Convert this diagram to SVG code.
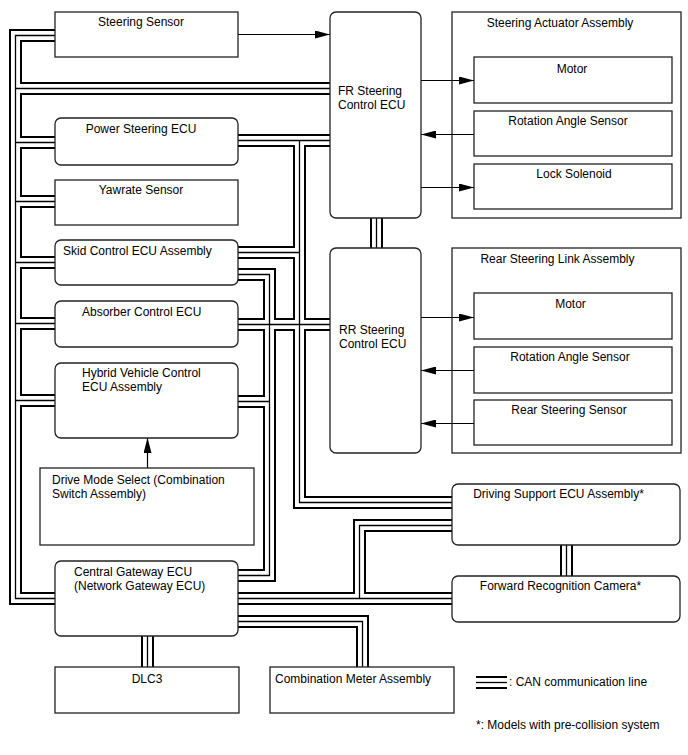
<svg xmlns="http://www.w3.org/2000/svg" xmlns:xlink="http://www.w3.org/1999/xlink" width="688" height="755" viewBox="0 0 688 755">
<style>
.bg{fill:#fff}
.box{fill:#fff;stroke:#222;stroke-width:1.3}
.cont{fill:none;stroke:#222;stroke-width:1.3}
.t{font-family:"Liberation Sans",Arial,sans-serif;font-size:12px;fill:#000}
.m{text-anchor:middle}
.can-outer{fill:none;stroke:#000;stroke-width:13}
.can-inner{fill:none;stroke:#fff;stroke-width:9}
.can-core{fill:none;stroke:#000;stroke-width:1.3}
.arr{fill:none;stroke:#000;stroke-width:1.2;marker-end:url(#ah)}
</style>
<defs>
<marker id="ah" markerWidth="15" markerHeight="8" refX="15" refY="4" orient="auto" markerUnits="userSpaceOnUse">
<path d="M0,0 L15,4 L0,8 z" fill="#000"/>
</marker>
<g id="can">
<path d="M57,35.5 H15.5 V598.5 H57"/>
<path d="M15.5,88.5 H332"/>
<path d="M15.5,142.5 H57"/>
<path d="M15.5,201.5 H57"/>
<path d="M15.5,262.5 H57"/>
<path d="M15.5,323.5 H57"/>
<path d="M15.5,400.5 H57"/>
<path d="M236,140.5 H332"/>
<path d="M299.5,140.5 V502.5 H454"/>
<path d="M236,252.5 H299.5"/>
<path d="M236,324.5 H332"/>
<path d="M236,274.5 H269.5 V575.5 H236"/>
<path d="M236,401.5 H269.5"/>
<path d="M236,598.5 H454"/>
<path d="M454,525.5 H359.5 V598.5"/>
<path d="M236,621.5 H362.5 V669"/>
<path d="M147.5,634 V669"/>
<path d="M376.5,216 V250"/>
<path d="M566.5,543 V578"/>
</g>
</defs>
<rect class="bg" x="0" y="0" width="688" height="755"/>
<g id="connectors">
<use xlink:href="#can" class="can-outer"/>
<use xlink:href="#can" class="can-inner"/>
<use xlink:href="#can" class="can-core"/>
<path class="arr" d="M238,34.5 H330"/>
<path class="arr" d="M421,80.5 H474"/>
<path class="arr" d="M474,134.5 H421"/>
<path class="arr" d="M421,187.5 H474"/>
<path class="arr" d="M421,317.5 H474"/>
<path class="arr" d="M474,370.5 H421"/>
<path class="arr" d="M474,423.5 H421"/>
<path class="arr" d="M147.5,468 V438"/>
</g>
<g id="steering-sensor"><rect class="box" x="55" y="12" width="183" height="45"/><text class="t m" x="141" y="26">Steering Sensor</text></g>
<g id="fr-steering-ecu"><rect class="box" x="330" y="12" width="91" height="206" rx="6"/><text class="t" x="338" y="95">FR Steering</text><text class="t" x="338" y="108.5">Control ECU</text></g>
<g id="steering-actuator-assembly"><rect class="cont" x="452" y="12" width="229" height="206"/><text class="t m" x="560" y="27">Steering Actuator Assembly</text></g>
<g id="sa-motor"><rect class="box" x="474" y="57" width="198" height="46"/><text class="t m" x="572" y="73">Motor</text></g>
<g id="sa-rotation-angle-sensor"><rect class="box" x="474" y="111" width="198" height="45"/><text class="t m" x="568" y="125">Rotation Angle Sensor</text></g>
<g id="sa-lock-solenoid"><rect class="box" x="474" y="164" width="198" height="45"/><text class="t m" x="574" y="178">Lock Solenoid</text></g>
<g id="power-steering-ecu"><rect class="box" x="55" y="118" width="183" height="47" rx="6"/><text class="t m" x="141" y="133">Power Steering ECU</text></g>
<g id="yawrate-sensor"><rect class="box" x="55" y="180" width="183" height="45"/><text class="t m" x="141" y="194">Yawrate Sensor</text></g>
<g id="skid-control-ecu"><rect class="box" x="55" y="240" width="183" height="45" rx="6"/><text class="t" x="63" y="255">Skid Control ECU Assembly</text></g>
<g id="absorber-control-ecu"><rect class="box" x="55" y="301" width="183" height="46" rx="6"/><text class="t" x="82" y="315.5">Absorber Control ECU</text></g>
<g id="hybrid-vehicle-control-ecu"><rect class="box" x="55" y="363" width="183" height="75" rx="6"/><text class="t" x="82" y="377">Hybrid Vehicle Control</text><text class="t" x="82" y="391">ECU Assembly</text></g>
<g id="drive-mode-select"><rect class="box" x="40" y="468" width="214" height="77"/><text class="t" x="52" y="484">Drive Mode Select (Combination</text><text class="t" x="52" y="498">Switch Assembly)</text></g>
<g id="central-gateway-ecu"><rect class="box" x="55" y="561" width="183" height="75" rx="6"/><text class="t" x="74" y="576">Central Gateway ECU</text><text class="t" x="74" y="590">(Network Gateway ECU)</text></g>
<g id="rr-steering-ecu"><rect class="box" x="330" y="248" width="91" height="205" rx="6"/><text class="t" x="339" y="334">RR Steering</text><text class="t" x="339" y="347.5">Control ECU</text></g>
<g id="rear-steering-link-assembly"><rect class="cont" x="452" y="248" width="229" height="205"/><text class="t m" x="557.5" y="263">Rear Steering Link Assembly</text></g>
<g id="rsl-motor"><rect class="box" x="474" y="293" width="198" height="46"/><text class="t m" x="570.5" y="308">Motor</text></g>
<g id="rsl-rotation-angle-sensor"><rect class="box" x="474" y="347" width="198" height="46"/><text class="t m" x="570" y="361">Rotation Angle Sensor</text></g>
<g id="rear-steering-sensor"><rect class="box" x="474" y="400" width="198" height="45"/><text class="t m" x="569" y="414">Rear Steering Sensor</text></g>
<g id="driving-support-ecu"><rect class="box" x="452" y="484" width="228" height="61" rx="6"/><text class="t m" x="558.5" y="498">Driving Support ECU Assembly*</text></g>
<g id="forward-recognition-camera"><rect class="box" x="452" y="576" width="228" height="46" rx="6"/><text class="t m" x="560.5" y="590">Forward Recognition Camera*</text></g>
<g id="dlc3"><rect class="box" x="55" y="667" width="184" height="46"/><text class="t m" x="147" y="683">DLC3</text></g>
<g id="combination-meter"><rect class="box" x="270" y="667" width="184" height="46"/><text class="t" x="275" y="683">Combination Meter Assembly</text></g>
<g id="legend">
<path class="can-outer" d="M476,682.5 H507"/>
<path class="can-inner" d="M474,682.5 H509"/>
<path class="can-core" d="M476,682.5 H507"/>
<text class="t" x="509" y="686">: CAN communication line</text>
<text class="t" x="476" y="729">*: Models with pre-collision system</text>
</g>
</svg>
